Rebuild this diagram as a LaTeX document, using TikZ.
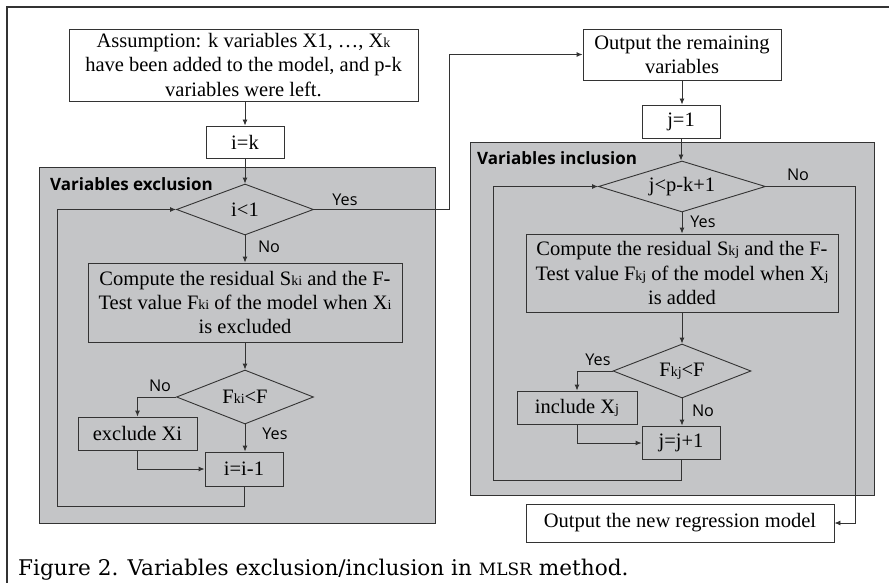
\documentclass[tikz,border=0pt]{standalone}
\usepackage{fontspec}
\setmainfont{Liberation Serif}
\newfontfamily\lblfont{Open Sans}
\newfontfamily\capfont{DejaVu Serif}
\usetikzlibrary{shapes.geometric,arrows.meta}
\newcommand\sbs[1]{{\fontsize{14}{14}\selectfont #1}}
\definecolor{panelgray}{HTML}{C4C5C7}
\definecolor{linegray}{HTML}{333333}
\tikzset{
  box/.style={draw=linegray, line width=0.9pt, inner sep=0pt, align=center,
    font=\fontsize{20.5}{24.2}\selectfont},
  wbox/.style={box, fill=white},
  dec/.style={draw=linegray, line width=0.9pt, diamond, aspect=2.7, inner sep=0pt,
    font=\fontsize{20.5}{24.2}\selectfont},
  panel/.style={draw=linegray, line width=0.9pt, fill=panelgray},
  arr/.style={draw=linegray, line width=0.9pt, -{Latex[length=6pt,width=5pt]}},
  ln/.style={draw=linegray, line width=0.9pt},
  lbl/.style={font=\lblfont\fontsize{16.2}{18}\selectfont, inner sep=0pt},
  ttl/.style={font=\lblfont\bfseries\fontsize{17}{18}\selectfont, inner sep=0pt, anchor=west},
}
\begin{document}
\begin{tikzpicture}[x=1pt,y=-1pt]
\useasboundingbox (0,0) rectangle (889,583);
\fill[white] (0,0) rectangle (889,583);
\draw[linegray, line width=1.6pt] (7,583) -- (7,7) -- (889,7);
% panels
\path[panel] (39,167) rectangle (435,523);
\path[panel] (470,142) rectangle (874,495);
\node[ttl] (t1) at (50,184) {Variables exclusion};
\node[ttl] (t2) at (477,158) {Variables inclusion};
% left nodes
\node[wbox, minimum width=349pt, minimum height=72pt] (a) at (243.5,65)
  {Assumption: k variables X1, \dots, X\sbs{k}\\have been added to the model, and p-k\\variables were left.};
\node[wbox, minimum width=78pt, minimum height=32pt] (ik) at (245,142) {i=k};
\node[dec, minimum width=137pt, minimum height=51pt] (d1) at (245,209.5) {i\textless1};
\node[box, minimum width=314pt, minimum height=79pt] (c1) at (245,302.5)
  {Compute the residual S\sbs{ki} and the F-\\Test value F\sbs{ki} of the model when X\sbs{i}\\is excluded};
\node[dec, minimum width=137pt, minimum height=54pt] (d2) at (245,397) {F\sbs{ki}\textless F};
\node[box, minimum width=119pt, minimum height=33pt] (ex) at (137.5,433.5) {exclude Xi};
\node[box, minimum width=78pt, minimum height=34pt] (dm) at (244,469) {i=i-1};
% right nodes
\node[wbox, minimum width=198pt, minimum height=51pt] (o1) at (682,54.5) {Output the remaining\\variables};
\node[wbox, minimum width=78pt, minimum height=33pt] (j1) at (681,121.5) {j=1};
\node[dec, minimum width=167pt, minimum height=51pt] (d3) at (682,186.5) {j\textless p-k+1};
\node[box, minimum width=312pt, minimum height=78pt] (c2) at (682,273)
  {Compute the residual S\sbs{kj} and the F-\\Test value F\sbs{kj} of the model when X\sbs{j}\\is added};
\node[dec, minimum width=138pt, minimum height=54pt] (d4) at (682,371) {F\sbs{kj}\textless F};
\node[box, minimum width=120pt, minimum height=33pt] (in) at (577,407.5) {include X\sbs{j}};
\node[box, minimum width=78pt, minimum height=33pt] (jp) at (681,442.5) {j=j+1};
\node[wbox, minimum width=308pt, minimum height=38pt] (o2) at (680,523) {Output the new regression model};
% helper coordinates
\coordinate (xr) at (449,0);
\coordinate (xl1) at (57,0);
\coordinate (yl1) at (0,506);
\coordinate (xl2) at (493,0);
\coordinate (yl2) at (0,480);
\coordinate (xr2) at (855,0);
\coordinate (yx) at (0,469);
\coordinate (yi) at (0,443);
% left connectors
\draw[arr] (a.south -| ik) -- (ik.north);
\draw[arr] (ik.south) -- (d1.north);
\draw[arr] (d1.south) -- (c1.north);
\draw[arr] (c1.south) -- (d2.north);
\draw[arr] (d2.west) -| (ex.north);
\draw[arr] (d2.south) -- (d2.south |- dm.north);
\draw[arr] (ex.south) |- (yx -| dm.west);
\draw[arr] (dm.south) -- (dm.south |- yl1) -| (xl1 |- d1) -- (d1.west);
\draw[arr] (d1.east) -- (xr |- d1) |- (o1.west);
% right connectors
\draw[arr] (o1.south) -- (o1.south |- j1.north);
\draw[arr] (j1.south) -- (j1.south |- d3.north);
\draw[arr] (d3.south) -- (d3.south |- c2.north);
\draw[arr] (c2.south) -- (d4.north);
\draw[arr] (d4.west) -| (in.north);
\draw[arr] (d4.south) -- (d4.south |- jp.north);
\draw[arr] (in.south) |- (yi -| jp.west);
\draw[arr] (jp.south) -- (jp.south |- yl2) -| (xl2 |- d3) -- (d3.west);
\draw[arr] (d3.east) -- (xr2 |- d3) |- (o2.east);
% labels
\node[lbl] (l1) at (345,200) {Yes};
\node[lbl] (l2) at (269,247) {No};
\node[lbl] (l3) at (160,386) {No};
\node[lbl] (l4) at (275,434) {Yes};
\node[lbl] (l5) at (798,175) {No};
\node[lbl] (l6) at (703,222) {Yes};
\node[lbl] (l7) at (598,360) {Yes};
\node[lbl] (l8) at (703,411) {No};
% caption
\node[anchor=base west, inner sep=0pt, font=\capfont\fontsize{21.6}{24}\selectfont] (cap) at (18,575)
  {Figure 2. Variables exclusion/inclusion in {\fontsize{17}{24}\selectfont MLSR} method.};
\end{tikzpicture}
\end{document}
